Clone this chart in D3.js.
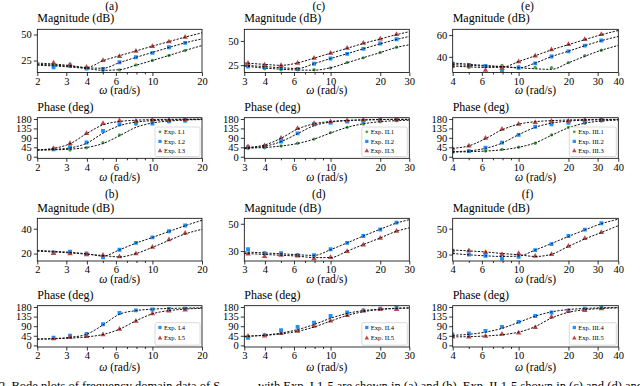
<!DOCTYPE html>
<html><head><meta charset="utf-8">
<script src="https://cdn.jsdelivr.net/npm/d3@7"></script>
<style>body{margin:0;background:#fff;} text{font-family:"Liberation Serif","DejaVu Serif",serif;}</style>
</head><body><svg id="c" width="640" height="386" font-family="Liberation Serif, DejaVu Serif, serif"></svg>
<script>
// ---------- data ----------
const freqI   = [2.51,3.16,3.98,5.01,6.31,7.94,10,12.6,15.8];
const freqII  = [3.16,3.98,5.01,6.31,7.94,10,12.6,15.8,20,25.1];
const freqIII = [3.98,5.01,6.31,7.94,10,12.6,15.8,20,25.1,31.6];
const fitFreqI   = [2,2.51,3.16,3.98,5.01,6.31,7.94,10,12.6,15.8,20];
const fitFreqII  = [3,3.16,3.98,5.01,6.31,7.94,10,12.6,15.8,20,25.1,30];
const fitFreqIII = [4,5.01,6.31,7.94,10,12.6,15.8,20,25.1,31.6,40];

const xTickLabelsI   = [2,3,4,6,10,20];
const xTickLabelsII  = [3,4,6,10,20,30];
const xTickLabelsIII = [4,6,10,20,30,40];
const phaseTicks = [0,45,90,135,180];

// Exp I
const magI1 = [20.8,19.5,17.6,15.4,16,20.8,25,29.8,34.6];
const phaI1 = [35,32,43,67,104,155,164,167,170];
const fitMagI1 = [20.5,19.8,18.8,17.3,15.6,16.2,20.5,25.1,29.9,34.7,39.4];
const fitPhaI1 = [32,33,36,44,63,100,140,161,170,175,177];
const magI2 = [18.6,20.2,17.3,17,23.4,28.2,32.4,37.8,42];
const phaI2 = [35,45,68,123,155,162,158,169,172];
const fitMagI2 = [21.4,20.6,19.5,18,17.6,23,28,32.8,37.5,42,45.8];
const fitPhaI2 = [32,35,42,64,112,148,165,172,175,177,178];
const magI3 = [22.8,21,18.6,25,29,34,38.5,43,47.4];
const phaI3 = [40,64,111,159,172,170,175,175,177];
const fitMagI3 = [22.6,21.6,20.2,18.3,24.8,29.6,34.2,38.8,43.2,47.5,51.6];
const fitPhaI3 = [33,40,62,110,152,168,174,177,178,179,179];
const magI4 = [20.8,21.6,20,16.9,23.1,28.6,33,38,42.6];
const phaI4 = [36,45,54,99,152,164,168,171,172];
const fitMagI4 = [22.6,21.8,21,19.8,18,23,28.4,33,37.8,42.4,46.8];
const fitPhaI4 = [30,32,38,52,96,146,163,170,173,175,176];
const magI5 = [20.2,20,19.2,18.7,17.4,20,25.2,31.2,36.4];
const phaI5 = [31,39,42,50,76,113,149,161,166];
const fitMagI5 = [21.9,21.3,20.5,19.5,18.4,17.3,20,25,30.6,35.8,39.5];
const fitPhaI5 = [29,31,34,40,51,76,115,148,163,170,174];

// Exp II
const magII1 = [24.3,21.2,20.2,20.2,20.2,22,27.7,32.5,38,43.5];
const phaII1 = [40,43,51,64,84,115,140,156,167,172];
const fitMagII1 = [24,23.6,22,20.8,20,19.8,22.3,27.5,32.7,38,43.3,46];
const fitPhaII1 = [38,40,44,51,63,84,113,140,157,167,172,174];
const magII2 = [23.6,23,22,21.2,26.4,31.8,36.6,41.8,47.3,51.7];
const phaII2 = [45,48,72,111,155,162,167,170,175,178];
const fitMagII2 = [25,24.7,23.5,22.3,21.5,26.5,31.8,36.8,41.9,47,51.5,54.6];
const fitPhaII2 = [40,42,50,72,110,148,165,172,175,177,178,178];
const magII3 = [27,25.3,24.7,27,32.2,37.3,42.5,47.6,52,56.8];
const phaII3 = [48,53,88,135,159,167,172,175,175,176];
const fitMagII3 = [27.3,27,25.8,24.8,27.3,32.2,37.3,42.4,47.4,52,56.5,59.5];
const fitPhaII3 = [42,44,56,88,132,157,168,173,176,177,178,178];
const magII4 = [31.3,28.5,28.5,27,27,31.3,36,41,45.8,50.8];
const phaII4 = [36,48,71,87,107,138,154,164,172,177];
const fitMagII4 = [29.3,29.2,28.6,28,27.3,26.8,31,36,41,46,50.5,53];
const fitPhaII4 = [42,43,48,58,74,98,127,150,163,170,174,176];
const magII5 = [27.8,26,27,26.5,24.5,25.3,29.8,34.5,39.5,44.5];
const phaII5 = [43,45,56,67,90,115,141,161,168,169];
const fitMagII5 = [28.2,28.1,27.5,26.9,26.3,25.2,25.2,29.9,34.8,39.6,44.5,47];
const fitPhaII5 = [42,43,47,54,66,86,114,140,158,168,173,175];

// Exp III
const magIII1 = [31,30.3,31,32.2,31,30.3,30,34.7,41,46];
const phaIII1 = [24,27,27,35,45,64,104,140,159,170];
const fitMagIII1 = [32.8,32.2,31.5,31,30,29,28.5,34.5,40.5,46,50.5];
const fitPhaIII1 = [22,24,27,33,45,66,102,138,160,170,175];
const magIII2 = [34,32.5,31.6,27.8,30,34,40.3,45,50.3,55];
const phaIII2 = [24,27,43,67,104,143,155,162,167,175];
const fitMagIII2 = [34.3,33.2,32,31,29.8,34.3,40.2,45.2,50.2,54.8,58.7];
const fitPhaIII2 = [24,28,40,65,105,140,160,170,174,176,177];
const magIII3 = [31.5,31.9,27.8,29.4,35.6,40.9,46.6,51.3,55.9,60.6];
const phaIII3 = [40,51,88,131,155,164,169,170,175,175];
const fitMagIII3 = [31.5,30.8,30.2,30.4,35.6,41,46.4,51.2,55.8,60.3,64.2];
const fitPhaIII3 = [40,52,86,128,155,167,172,175,177,178,178];
const magIII4 = [31.8,30,29,26.9,28.2,33.4,38,44.3,49.2,54.2];
const phaIII4 = [51,56,68,87,110,138,154,164,172,177];
const fitMagIII4 = [30.8,29.8,29,28.5,28.8,33.5,38.5,44,49,53.8,57.3];
const fitPhaIII4 = [47,52,62,80,108,137,157,168,173,176,177];
const magIII5 = [33.4,32.9,31.6,30,30.8,28.7,30,36.5,42.5,47.1];
const phaIII5 = [40,40,43,53,59,84,133,160,164,172];
const fitMagIII5 = [33.5,32.8,32,30.8,29.8,28.5,30.2,36.3,42,47,52.3];
const fitPhaIII5 = [40,41,44,50,62,88,128,155,167,173,176];

const captionParts = [
  "2. Bode plots of frequency domain data of S",
  "with Exp. I.1-5 are shown in (a) and (b), Exp. II.1-5 shown in (c) and (d) and Exp. III.1-5 in (e) and (f)."
];

// ---------- styles / layout ----------
const FONT = "Liberation Serif, DejaVu Serif, serif";
const COL = {g:"#4f9f4f", b:"#1e90ff", r:"#b94a48"};
const SYM = {g:d3.symbolCircle, b:d3.symbolSquare, r:d3.symbolTriangle};
const SYMSIZE = {g:9, b:15, r:13};

const cols = [
  {x0:37.3, x1:202, dom:[2,20], labels:xTickLabelsI, ticks:[2,3,4,5,6,7,8,9,10,20], f:freqI, ff:fitFreqI},
  {x0:244.3, x1:409.3, dom:[3,30], labels:xTickLabelsII, ticks:[3,4,5,6,7,8,9,10,20,30], f:freqII, ff:fitFreqII},
  {x0:452.7, x1:618.3, dom:[4,40], labels:xTickLabelsIII, ticks:[4,5,6,7,8,9,10,20,30,40], f:freqIII, ff:fitFreqIII}
];
const rows = [
  {y0:29.3, y1:72.5, title:"Magnitude (dB)", tb:21.5, xl:93.5, kind:"mag"},
  {y0:117.7, y1:158.3, title:"Phase (deg)", tb:110.5, xl:180.5, kind:"pha"},
  {y0:218.3, y1:261, title:"Magnitude (dB)", tb:211.5, xl:282.5, kind:"mag"},
  {y0:305.7, y1:347, title:"Phase (deg)", tb:298.5, xl:370.5, kind:"pha"}
];
const magDomains = [[[13.5,55],[14,48.4]],[[17.4,62],[22.7,54]],[[25.6,65.3],[25,58]]];
const magTicks = [[[25,50],[20,40]],[[25,50],[30,50]],[[40,60],[30,50]]];
const panelLetters = [["(a)","(b)"],["(c)","(d)"],["(e)","(f)"]];

const seriesSets = [
  [
    [{c:"g",lab:"Exp. I.1",m:magI1,p:phaI1,fm:fitMagI1,fp:fitPhaI1},
     {c:"b",lab:"Exp. I.2",m:magI2,p:phaI2,fm:fitMagI2,fp:fitPhaI2},
     {c:"r",lab:"Exp. I.3",m:magI3,p:phaI3,fm:fitMagI3,fp:fitPhaI3}],
    [{c:"b",lab:"Exp. I.4",m:magI4,p:phaI4,fm:fitMagI4,fp:fitPhaI4},
     {c:"r",lab:"Exp. I.5",m:magI5,p:phaI5,fm:fitMagI5,fp:fitPhaI5}]
  ],
  [
    [{c:"g",lab:"Exp. II.1",m:magII1,p:phaII1,fm:fitMagII1,fp:fitPhaII1},
     {c:"b",lab:"Exp. II.2",m:magII2,p:phaII2,fm:fitMagII2,fp:fitPhaII2},
     {c:"r",lab:"Exp. II.3",m:magII3,p:phaII3,fm:fitMagII3,fp:fitPhaII3}],
    [{c:"b",lab:"Exp. II.4",m:magII4,p:phaII4,fm:fitMagII4,fp:fitPhaII4},
     {c:"r",lab:"Exp. II.5",m:magII5,p:phaII5,fm:fitMagII5,fp:fitPhaII5}]
  ],
  [
    [{c:"g",lab:"Exp. III.1",m:magIII1,p:phaIII1,fm:fitMagIII1,fp:fitPhaIII1},
     {c:"b",lab:"Exp. III.2",m:magIII2,p:phaIII2,fm:fitMagIII2,fp:fitPhaIII2},
     {c:"r",lab:"Exp. III.3",m:magIII3,p:phaIII3,fm:fitMagIII3,fp:fitPhaIII3}],
    [{c:"b",lab:"Exp. III.4",m:magIII4,p:phaIII4,fm:fitMagIII4,fp:fitPhaIII4},
     {c:"r",lab:"Exp. III.5",m:magIII5,p:phaIII5,fm:fitMagIII5,fp:fitPhaIII5}]
  ]
];

const svg = d3.select("#c");

function txt(sel) { return sel.attr("font-family", FONT).attr("fill", "#000"); }

function panel(ci, ri) {
  const C = cols[ci], R = rows[ri];
  const block = ri < 2 ? 0 : 1;
  const isMag = R.kind === "mag";
  const x = d3.scaleLog().domain(C.dom).range([C.x0, C.x1]);
  const y = d3.scaleLinear()
    .domain(isMag ? magDomains[ci][block] : [-7.5, 186])
    .range([R.y1, R.y0]);
  const g = svg.append("g");

  if (isMag) {
    txt(g.append("text")).attr("x", (C.x0 + C.x1)/2 - 8).attr("y", block === 0 ? 9.5 : 197.5)
      .attr("text-anchor","middle").attr("font-size",11.5).text(panelLetters[ci][block]);
  }
  txt(g.append("text")).attr("x", C.x0).attr("y", R.tb).attr("font-size",12).text(R.title);

  const xa = d3.axisBottom(x).tickValues(C.ticks)
    .tickFormat(d => C.labels.includes(d) ? d : "")
    .tickSize(3.5).tickPadding(1.5);
  const gx = g.append("g").attr("transform",`translate(0,${R.y1})`).call(xa).attr("font-family", FONT);
  gx.select(".domain").remove();
  gx.selectAll(".tick line").attr("y2", d => C.labels.includes(d) ? 3.5 : 2).attr("stroke","#000").attr("stroke-width",0.8);
  txt(gx.selectAll("text")).attr("font-size",10.5);

  const ya = d3.axisLeft(y).tickValues(isMag ? magTicks[ci][block] : phaseTicks)
    .tickSize(3.5).tickPadding(2);
  const gy = g.append("g").attr("transform",`translate(${C.x0},0)`).call(ya).attr("font-family", FONT);
  gy.select(".domain").remove();
  gy.selectAll(".tick line").attr("stroke","#000").attr("stroke-width",0.8);
  txt(gy.selectAll("text")).attr("font-size",10.5);

  const xl = txt(g.append("text")).attr("x",(C.x0+C.x1)/2).attr("y",R.xl).attr("text-anchor","middle").attr("font-size",11.5);
  xl.append("tspan").attr("font-style","italic").text("\u03C9");
  xl.append("tspan").text(" (rad/s)");

  const cid = `clip${ci}${ri}`;
  svg.append("clipPath").attr("id",cid).append("rect")
    .attr("x",C.x0).attr("y",R.y0).attr("width",C.x1-C.x0).attr("height",R.y1-R.y0);
  const pg = g.append("g").attr("clip-path",`url(#${cid})`);

  const series = seriesSets[ci][block];
  series.forEach(s => {
    const vals = isMag ? s.m : s.p;
    pg.selectAll(null).data(vals.map((v,i)=>[C.f[i],v])).enter().append("path")
      .attr("d", d3.symbol().type(SYM[s.c]).size(SYMSIZE[s.c]))
      .attr("transform", d => `translate(${x(d[0])},${y(d[1])})`)
      .attr("fill", COL[s.c]);
  });
  const line = d3.line().x(d=>x(d[0])).y(d=>y(d[1])).curve(d3.curveMonotoneX);
  series.forEach(s => {
    const vals = isMag ? s.fm : s.fp;
    pg.append("path").attr("d", line(vals.map((v,i)=>[C.ff[i],v])))
      .attr("fill","none").attr("stroke","#111").attr("stroke-width",1).attr("stroke-dasharray","2.2,1.4");
  });

  g.append("rect").attr("x",C.x0).attr("y",R.y0).attr("width",C.x1-C.x0).attr("height",R.y1-R.y0)
    .attr("fill","none").attr("stroke","#000").attr("stroke-width",0.8);

  if (!isMag) {
    const n = series.length;
    const lw = ci === 0 ? 45 : (ci === 1 ? 45.5 : 47);
    const lx = C.x1 - lw - 2;
    const lh = n === 3 ? 29.5 : 22.5;
    const ly = R.y1 - lh - 1.8;
    const lg = g.append("g");
    lg.append("rect").attr("x",lx).attr("y",ly).attr("width",lw).attr("height",lh).attr("rx",1.5)
      .attr("fill","#fff").attr("fill-opacity",0.85).attr("stroke","#d0d0d0").attr("stroke-width",0.8);
    series.forEach((s,i) => {
      const yy = ly + 4.8 + i*(n===3 ? 9.6 : 10.6);
      lg.append("path").attr("d", d3.symbol().type(SYM[s.c]).size(SYMSIZE[s.c]*0.7))
        .attr("transform",`translate(${lx+5},${yy})`).attr("fill",COL[s.c]);
      txt(lg.append("text")).attr("x",lx+9).attr("y",yy+2.3).attr("font-size",6.6).text(s.lab);
    });
  }
}

for (let ci=0; ci<3; ci++) for (let ri=0; ri<4; ri++) panel(ci, ri);

const cap = txt(svg.append("text")).attr("y",390).attr("font-size",12.5);
cap.append("tspan").attr("x",-1).text(captionParts[0]);
cap.append("tspan").attr("x",258).text(captionParts[1]);
</script></body></html>
